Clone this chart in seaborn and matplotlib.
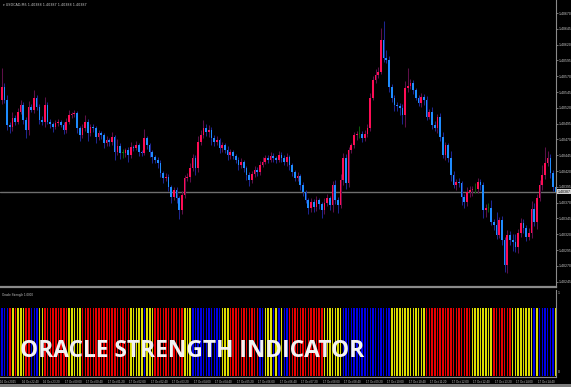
import numpy as np
import pandas as pd
import matplotlib
matplotlib.use("Agg")
import matplotlib.pyplot as plt
from matplotlib.patches import Rectangle
import seaborn as sns

# ---------------- data ----------------
symbol_header = "\u25BE USDCAD,M5 1.40388 1.40387 1.40388 1.40387"
indicator_name = "Oracle Strength 1.0000"
title_text = "ORACLE STRENGTH INDICATOR"
current_price = 1.40387
base_price = 1.40000

# close prices in points above 1.40000 (5-digit quotes)
first_open_pts = 532
close_pts = [
    553, 532, 493, 490, 504, 498, 513, 525, 501, 485,
    521, 517, 536, 521, 501, 498, 525, 498, 494, 490,
    496, 498, 493, 485, 498, 509, 510, 512, 488, 477,
    488, 498, 480, 490, 488, 474, 480, 477, 464, 469,
    466, 474, 450, 460, 449, 449, 453, 445, 458, 457,
    461, 450, 449, 472, 461, 450, 442, 438, 433, 417,
    409, 411, 395, 379, 390, 377, 358, 382, 409, 411,
    425, 441, 425, 466,
    477, 488, 482, 485, 472, 466, 469, 456, 461, 453,
    445, 450, 444, 438, 430, 434, 425, 414, 406, 415,
    422, 418, 430, 434, 441, 438, 444, 441, 438, 445,
    441, 434, 442, 430, 418, 409, 412, 398, 387, 374,
    362, 371, 363, 374, 368, 358, 370, 377, 366,
    398, 374, 366, 406, 441, 401, 453, 461, 477, 479,
    479, 472, 479, 488, 536, 564, 572, 577, 627, 599,
    596, 553, 536, 525, 523, 520, 509, 551, 555, 559,
    548, 536, 528, 537, 532, 506, 513, 493, 488, 506,
    474, 445, 461, 441, 414, 398, 403, 401, 379, 371,
    387, 390, 391, 391, 403, 398, 358, 362, 362, 339,
    335, 319, 343, 311, 271, 319, 311, 308, 300, 322,
    338, 330, 316, 322, 360, 339, 377, 398, 414, 433,
    441, 417, 395, 387,
]
upper_wick_pts = [
    30, 6, 8, 5, 10, 4, 6, 8, 5, 4, 10, 5, 12, 4, 5, 6, 12, 4, 5, 3,
    5, 4, 3, 4, 6, 8, 4, 5, 3, 4, 6, 10, 4, 5, 4, 3, 5, 4, 3, 6,
    4, 8, 3, 10, 4, 6, 4, 5, 8, 4, 6, 3, 4, 15, 4, 3, 4, 3, 5, 4,
    3, 6, 4, 3, 5, 4, 3, 6, 5, 6, 8, 6, 5, 10,
    8, 12, 6, 8, 4, 5, 6, 4, 5, 4, 6, 5, 4, 3, 5, 6, 4, 3, 4, 5,
    6, 4, 6, 8, 5, 4, 6, 4, 3, 6, 5, 4, 6, 4, 3, 4, 6, 3, 4, 3,
    4, 6, 5, 6, 4, 3, 8, 6, 4,
    6, 8, 5, 10, 8, 6, 5, 4, 5, 4, 12, 5, 6, 6, 8, 6, 10, 8, 20, 30,
    12, 6, 5, 4, 4, 5, 6, 12, 28, 6, 5, 4, 5, 6, 5, 6, 5, 8, 6, 4,
    6, 8, 5, 4, 10, 6, 5, 6, 4, 5, 8, 6, 5, 10, 6, 4, 5, 6, 8, 12,
    5, 20, 4, 6, 5, 8, 6, 10, 12, 6, 8, 6, 5, 8, 12, 10, 6, 8, 15, 25,
    10, 6, 5, 4,
]
lower_wick_pts = [
    6, 5, 8, 10, 6, 5, 4, 3, 6, 12, 8, 4, 5, 4, 6, 5, 8, 4, 6, 8,
    4, 5, 3, 6, 4, 3, 5, 4, 8, 10, 5, 4, 12, 4, 6, 10, 5, 6, 8, 4,
    6, 5, 12, 4, 10, 8, 6, 10, 4, 5, 4, 6, 5, 4, 6, 8, 10, 6, 8, 6,
    8, 5, 6, 10, 5, 8, 14, 6, 4, 5, 8, 5, 12, 6,
    5, 4, 6, 8, 10, 6, 5, 8, 6, 5, 8, 6, 5, 6, 8, 5, 6, 8, 10, 5,
    4, 6, 5, 4, 3, 5, 4, 6, 5, 4, 6, 5, 6, 8, 6, 5, 4, 8, 6, 5,
    10, 6, 8, 6, 8, 12, 6, 5, 8,
    10, 6, 12, 5, 8, 10, 6, 5, 4, 8, 6, 6, 4, 5, 4, 3, 4, 5, 4, 6,
    5, 8, 6, 10, 8, 12, 15, 20, 6, 5, 6, 4, 5, 6, 8, 5, 4, 6, 5, 8,
    6, 5, 8, 6, 10, 5, 8, 6, 12, 10, 6, 8, 10, 5, 6, 8, 12, 10, 6, 5,
    8, 6, 5, 8, 10, 12, 8, 15, 8, 10, 6, 8, 6, 5, 8, 6, 10, 5, 8, 6,
    5, 8, 6, 10,
]

# indicator state per bar: B = bullish (blue), R = bearish (red), Y = neutral (yellow)
strength_segments = [
    "BBBRYRYYYRRBBBYY", "RRRRRRRRR", "YYYYY", "RRRRRRRRRRRRRRRRRR", "YYYYY",
    "B", "YYY", "RRRRRRRRRRR", "YYY", "BBB", "BBBBBBBB", "YYY", "RRRRRRRRRRR",
    "BB", "YYY", "BYBY", "BB", "RRRRRRRRRRRRR", "YYYYYYY", "BBBBBBBBBBBBBBBBBB",
    "YYYYYYYYYYYYY", "RRRRRRRRRRRRRRRRR", "YYYYYYYY", "RRRRRRR", "YYYYYYYY",
    "BY", "BBBBBB", "Y",
]

price_ticks = [1.40245, 1.40270, 1.40295, 1.40320, 1.40345, 1.40370, 1.40395,
               1.40420, 1.40445, 1.40470, 1.40495, 1.40520, 1.40545, 1.40570,
               1.40595, 1.40620, 1.40645, 1.40670]

time_labels = ["16 Oct 2025", "16 Oct 22:40", "16 Oct 23:20", "17 Oct 00:00",
               "17 Oct 00:40", "17 Oct 01:20", "17 Oct 02:00", "17 Oct 02:40",
               "17 Oct 03:20", "17 Oct 04:00", "17 Oct 04:40", "17 Oct 05:20",
               "17 Oct 06:00", "17 Oct 06:40", "17 Oct 07:20", "17 Oct 08:00",
               "17 Oct 08:40", "17 Oct 09:20", "17 Oct 10:00", "17 Oct 10:40",
               "17 Oct 11:20", "17 Oct 12:00", "17 Oct 12:40", "17 Oct 13:20",
               "17 Oct 14:00", "17 Oct 14:40"]
bars_per_label = 8

# ---------------- build frame ----------------
n = len(close_pts)
strength = list("".join(strength_segments))
assert len(strength) == n and len(upper_wick_pts) == n and len(lower_wick_pts) == n

close_p = np.array(close_pts, dtype=float)
open_p = np.concatenate([[first_open_pts], close_p[:-1]])
high_p = np.maximum(open_p, close_p) + np.array(upper_wick_pts)
low_p = np.minimum(open_p, close_p) - np.array(lower_wick_pts)
to_price = lambda p: base_price + p / 1e5

df = pd.DataFrame({
    "bar": np.arange(n),
    "open": to_price(open_p), "close": to_price(close_p),
    "high": to_price(high_p), "low": to_price(low_p),
    "state": strength,
})
df["value"] = 1.0

# ---------------- style ----------------
sns.set_theme(style="dark", rc={"axes.facecolor": "black", "figure.facecolor": "black",
                                "axes.grid": False})
plt.rcParams["font.family"] = ["Liberation Sans", "DejaVu Sans"]

W, H = 571, 387
fig = plt.figure(figsize=(W / 100, H / 100), dpi=100, facecolor="black")
ax = fig.add_axes([0, 1 - 287 / H, 556 / W, 287 / H])
ax2 = fig.add_axes([0, 1 - 377 / H, 556 / W, 87 / H])

grey = "#8a8a8a"
txt = "#c8c8c8"

# ---------------- candles ----------------
RED, BLUE, GREEN = "#ff0d55", "#1e8cff", "#0b7a0b"
body_col, wick_col = [], []
for o, c in zip(df["open"], df["close"]):
    if c > o + 1e-9:
        body_col.append(RED); wick_col.append("#5e0f48")
    elif c < o - 1e-9:
        body_col.append(BLUE); wick_col.append("#1d2690")
    else:
        body_col.append(GREEN); wick_col.append("#0b5a0b")

ax.vlines(df["bar"], df["low"], df["high"], colors=wick_col, linewidth=0.75, zorder=2)
bottoms = np.minimum(df["open"], df["close"])
heights = np.maximum(np.abs(df["close"] - df["open"]), 1.3e-5)
ax.bar(df["bar"], heights, bottom=bottoms, width=0.62, color=body_col, linewidth=0, zorder=3)

ax.axhline(current_price, color="#6e6e6e", linewidth=1.0, zorder=1)

xlim = (-0.63, 206.1)
ax.set_xlim(*xlim)
ax.set_ylim(1.402366, 1.406906)
ax.yaxis.tick_right()
ax.set_yticks(price_ticks)
ax.set_yticklabels([f"{v:.5f}" for v in price_ticks])
ax.tick_params(axis="y", which="both", right=True, length=1.5, width=0.6, color=grey,
               labelsize=2.5, labelcolor=txt, pad=0.8)
ax.set_xticks([])
for s in ["top", "left"]:
    ax.spines[s].set_visible(False)
ax.spines["right"].set_color(grey); ax.spines["right"].set_linewidth(0.8)
ax.spines["bottom"].set_color(grey); ax.spines["bottom"].set_linewidth(1.6)

# current price box
ax.annotate(f"{current_price:.5f}", xy=(1.0, current_price), xycoords=("axes fraction", "data"),
            xytext=(1.2, 0), textcoords="offset points", ha="left", va="center",
            fontsize=2.5, color="black",
            bbox=dict(boxstyle="square,pad=0.15", fc="#d0d0d0", ec="none"))

fig.text(3 / W, 1 - 5 / H, symbol_header, color=txt, fontsize=2.4, va="center", ha="left",
         family=["DejaVu Sans"])

# ---------------- indicator (seaborn) ----------------
pal = {"R": "#e80000", "B": "#0000e8", "Y": "#dcdc00"}
sns.barplot(data=df, x="bar", y="value", hue="state", palette=pal, dodge=False,
            native_scale=True, width=0.55, errorbar=None, legend=False,
            saturation=1, linewidth=0, ax=ax2)
ax2.set_xlim(*xlim)
ax2.set_ylim(-0.015, 1.27)
ax2.set_xlabel(""); ax2.set_ylabel("")
ax2.set_yticks([])
ticks = [k * bars_per_label for k in range(len(time_labels))]
ax2.set_xticks([t - 0.75 for t in ticks])
ax2.set_xticklabels(time_labels, ha="left")
ax2.tick_params(axis="x", length=1.5, width=0.6, color=grey, labelsize=2.1,
                labelcolor=txt, pad=1)
for s in ["top", "left"]:
    ax2.spines[s].set_visible(False)
ax2.spines["right"].set_color(grey); ax2.spines["right"].set_linewidth(0.8)
ax2.spines["bottom"].set_color(grey); ax2.spines["bottom"].set_linewidth(0.8)

ax2.text(2 / 556, 0.96, indicator_name, transform=ax2.transAxes, color=txt,
         fontsize=2.2, va="top", ha="left")
ax2.text(1.004, 0.99, "1", transform=ax2.transAxes, color=txt, fontsize=2.5, va="top", ha="left")
ax2.text(1.004, 0.04, "0", transform=ax2.transAxes, color=txt, fontsize=2.5, va="bottom", ha="left")

# bottom grey strip
fig.patches.append(Rectangle((0, 0), 1, 3 / H, transform=fig.transFigure,
                             facecolor="#7c7c7c", edgecolor="none", zorder=0))

# overlay title
fig.text(20 / W, 1 - 357 / H, title_text, color="#f2f2f2", fontsize=16.4,
         fontweight="bold", family=["Open Sans", "DejaVu Sans"], va="baseline", ha="left",
         zorder=10)

fig.savefig("out.png", dpi=100, facecolor="black")
